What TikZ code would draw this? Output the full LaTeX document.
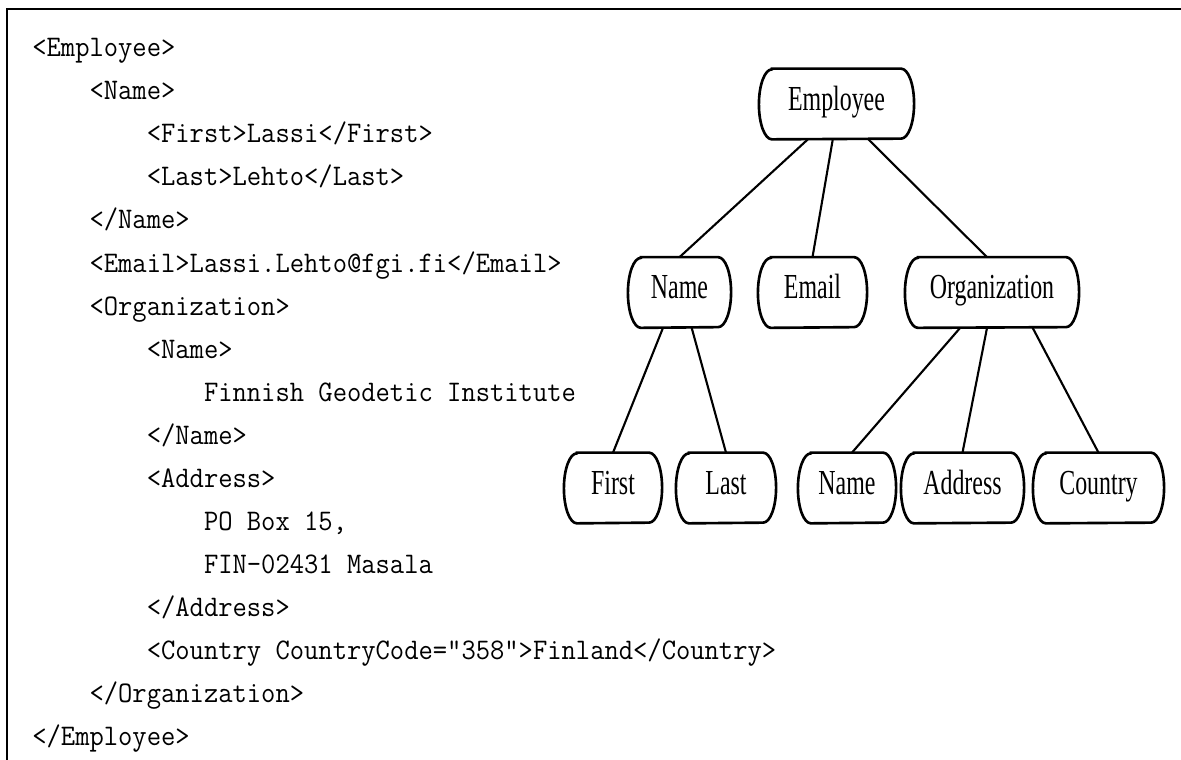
\documentclass[tikz,border=0pt]{standalone}
\usepackage{fontspec}
\newfontfamily\codefont[FakeStretch=0.93]{Latin Modern Mono}
\newfontfamily\treefont[FakeStretch=0.68]{Liberation Serif}

% one indentation level of the listing
\newcommand{\tabin}{\hphantom{xxxx}}

\tikzset{
  elem/.style={rectangle, inner sep=0pt, minimum height=1.40cm,
    text height=0.72em, text depth=0pt, font=\treefont\fontsize{20}{20}\selectfont},
  pill/.style={line width=1.5pt},
  link/.style={line width=1.2pt},
}

\begin{document}
\begin{tikzpicture}[x=0.02cm, y=-0.02cm]
\useasboundingbox (0,0) rectangle (1181,760);

% frame (top and left edge)
\draw[line width=1.3pt] (1181,9) -- (7,9) -- (7,760);

% === XML listing ===
\node[anchor=base west, inner sep=0pt, align=left,
      font=\codefont\fontsize{17}{24.5}\selectfont] (xml) at (32,745.5) {%
<Employee>\\
\tabin<Name>\\
\tabin\tabin<First>Lassi</First>\\
\tabin\tabin<Last>Lehto</Last>\\
\tabin</Name>\\
\tabin<Email>Lassi.Lehto@fgi.fi</Email>\\
\tabin<Organization>\\
\tabin\tabin<Name>\\
\tabin\tabin\tabin Finnish Geodetic Institute\\
\tabin\tabin</Name>\\
\tabin\tabin<Address>\\
\tabin\tabin\tabin PO Box 15,\\
\tabin\tabin\tabin FIN-02431 Masala\\
\tabin\tabin</Address>\\
\tabin\tabin<Country CountryCode="358">Finland</Country>\\
\tabin</Organization>\\
</Employee>};

% === element tree ===
\node[elem, minimum width=3.09cm] (emp) at (836.5,104) {Employee};

\node[elem, minimum width=2.05cm] (name) at (679.5,292.5) {Name};
\node[elem, minimum width=2.17cm] (email) at (812.5,292.5) {Email};
\node[elem, minimum width=3.47cm] (org) at (992,292.5) {Organization};

\node[elem, minimum width=1.95cm] (first) at (613,488) {First};
\node[elem, minimum width=1.99cm] (last) at (726,488) {Last};
\node[elem, minimum width=1.95cm] (oname) at (847,488) {Name};
\node[elem, minimum width=2.45cm] (addr) at (962.5,488) {Address};
\node[elem, minimum width=2.61cm] (country) at (1098.5,488) {Country};

% outlines: flat top and bottom, half-elliptic sides
\foreach \n in {emp,name,email,org,first,last,oname,addr,country}
  \draw[pill] ([xshift=2.6mm]\n.north west) -- ([xshift=-2.6mm]\n.north east)
    arc[start angle=90, end angle=-90, x radius=2.6mm, y radius=0.7cm]
    -- ([xshift=2.6mm]\n.south west)
    arc[start angle=270, end angle=90, x radius=2.6mm, y radius=0.7cm] -- cycle;

% parent -> child links
\draw[link] (emp.231.6) -- (name.north);
\draw[link] (emp.264.4) -- (email.north);
\draw[link] (emp.312.9) -- (org.98);
\draw[link] (name.245) -- (first.north);
\draw[link] (name.289.4) -- (last.north);
\draw[link] (org.228) -- (oname.82);
\draw[link] (org.262) -- (addr.north);
\draw[link] (org.319) -- (country.north);

\end{tikzpicture}
\end{document}
